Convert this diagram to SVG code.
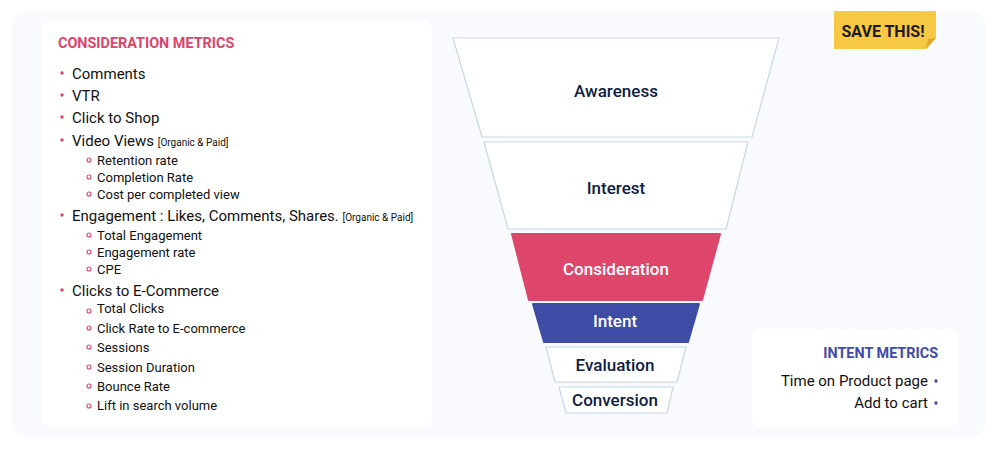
<svg xmlns="http://www.w3.org/2000/svg" width="1000" height="453" viewBox="0 0 1000 453">
<defs>
<style>
text{font-family:Roboto,"Liberation Sans",sans-serif}
.title{font-size:14.4px;font-weight:700}
.item{font-size:15px;fill:#111}
.sub{font-size:13px;fill:#111}
.tag{font-size:10px;fill:#111}
.stage{fill:#fff;stroke:#c8d6e6;stroke-width:1.2;stroke-linejoin:round}
.lbl{font-size:17px;font-weight:500;fill:#0f1d42;text-anchor:middle}
.lblw{font-size:17px;font-weight:500;fill:#fff;text-anchor:middle}
.dot{fill:#d9466c}
.ring{fill:none;stroke:#d9466c;stroke-width:1.1}
</style>
</defs>
<rect width="1000" height="453" fill="#fff"/>
<rect x="12" y="11" width="974" height="426" rx="16" fill="#f8fafd"/>

<g id="consideration-metrics">
<rect x="42" y="20" width="390" height="407" rx="10" fill="#fff"/>
<text x="58" y="48" class="title" fill="#d9466c">CONSIDERATION METRICS</text>
<circle class="dot" cx="62" cy="73" r="1.7"/><text x="72" y="79" class="item">Comments</text>
<circle class="dot" cx="62" cy="95" r="1.7"/><text x="72" y="101" class="item">VTR</text>
<circle class="dot" cx="62" cy="117" r="1.7"/><text x="72" y="123" class="item">Click to Shop</text>
<circle class="dot" cx="62" cy="140" r="1.7"/><text x="72" y="146" class="item">Video Views <tspan class="tag">[Organic &amp; Paid]</tspan></text>
<circle class="ring" cx="89" cy="160" r="2"/><text x="97" y="165" class="sub">Retention rate</text>
<circle class="ring" cx="89" cy="177" r="2"/><text x="97" y="182" class="sub">Completion Rate</text>
<circle class="ring" cx="89" cy="194" r="2"/><text x="97" y="199" class="sub">Cost per completed view</text>
<circle class="dot" cx="62" cy="215" r="1.7"/><text x="72" y="221" class="item">Engagement : Likes, Comments, Shares. <tspan class="tag">[Organic &amp; Paid]</tspan></text>
<circle class="ring" cx="89" cy="235" r="2"/><text x="97" y="240" class="sub">Total Engagement</text>
<circle class="ring" cx="89" cy="252" r="2"/><text x="97" y="257" class="sub">Engagement rate</text>
<circle class="ring" cx="89" cy="269" r="2"/><text x="97" y="274" class="sub">CPE</text>
<circle class="dot" cx="62" cy="290" r="1.7"/><text x="72" y="296" class="item">Clicks to E-Commerce</text>
<circle class="ring" cx="89" cy="311" r="2"/><text x="97" y="313" class="sub">Total Clicks</text>
<circle class="ring" cx="89" cy="328" r="2"/><text x="97" y="333" class="sub">Click Rate to E-commerce</text>
<circle class="ring" cx="89" cy="347" r="2"/><text x="97" y="352" class="sub">Sessions</text>
<circle class="ring" cx="89" cy="367" r="2"/><text x="97" y="372" class="sub">Session Duration</text>
<circle class="ring" cx="89" cy="386" r="2"/><text x="97" y="391" class="sub">Bounce Rate</text>
<circle class="ring" cx="89" cy="406" r="2"/><text x="97" y="410" class="sub">Lift in search volume</text>
</g>

<g id="awareness">
<path class="stage" d="M453,38 L779,38 L752,137 L482,137 Z"/>
<text x="616" y="97" class="lbl">Awareness</text>
</g>
<g id="interest">
<path class="stage" d="M484,142 L748,142 L726,229 L508,229 Z"/>
<text x="616" y="194" class="lbl">Interest</text>
</g>
<g id="consideration">
<path d="M512,234 L720,234 L702,300 L529,300 Z" fill="#de466c" stroke="#de466c" stroke-width="2" stroke-linejoin="round"/>
<text x="616" y="275" class="lblw">Consideration</text>
</g>
<g id="intent">
<path d="M533,304 L699,304 L688,342 L544,342 Z" fill="#3f4ca6" stroke="#3f4ca6" stroke-width="2" stroke-linejoin="round"/>
<text x="615" y="327" class="lblw">Intent</text>
</g>
<g id="evaluation">
<path class="stage" d="M546,347 L686,347 L677,382 L555,382 Z"/>
<text x="615" y="371" class="lbl">Evaluation</text>
</g>
<g id="conversion">
<path class="stage" d="M559,387 L673,387 L667,413 L566,413 Z"/>
<text x="615" y="406" class="lbl">Conversion</text>
</g>

<g id="save-this">
<path d="M834,11 L936,11 L936,38 L926,49 L834,49 Z" fill="#f7c844"/>
<path d="M926,49 L936,38 L928,39 Z" fill="#e0a92a"/>
<text x="883" y="37" font-size="16" font-weight="700" fill="#1a1a1a" text-anchor="middle">SAVE THIS!</text>
</g>

<g id="intent-metrics">
<rect x="752" y="329" width="206" height="98" rx="8" fill="#fff"/>
<text x="938" y="358" class="title" fill="#3f4ca6" text-anchor="end">INTENT METRICS</text>
<text x="928" y="386" class="item" text-anchor="end">Time on Product page</text>
<circle cx="936" cy="381" r="1.7" fill="#3f4ca6"/>
<text x="928" y="408" class="item" text-anchor="end">Add to cart</text>
<circle cx="936" cy="403" r="1.7" fill="#3f4ca6"/>
</g>
<g id="connectors"></g>
</svg>
